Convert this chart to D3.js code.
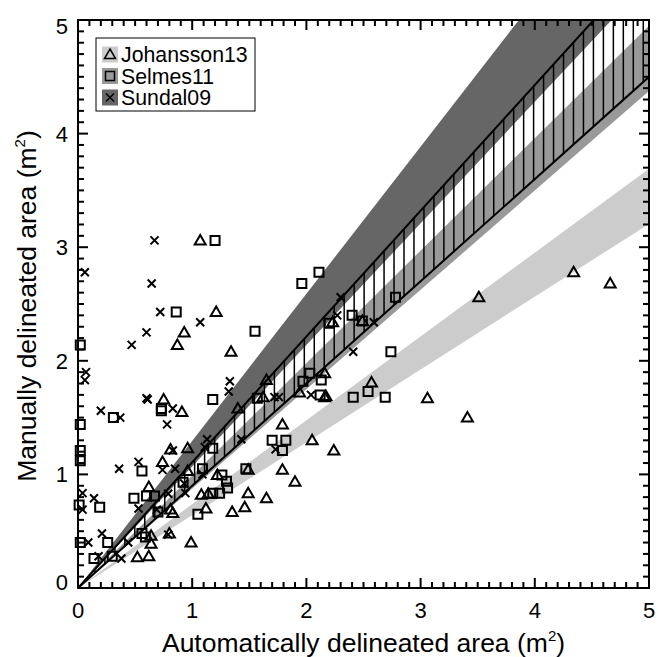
<!DOCTYPE html>
<html>
  <head>
    <script src="https://d3js.org/d3.v7.min.js" charset="utf-8"></script>
    <meta charset="UTF-8">
    <title>manual vs automatic area</title>
    <style>
      body { margin: 0; background: #fff; }
      svg text { font-family: "Liberation Sans", Arial, Helvetica, sans-serif; fill: #000; }
    </style>
  </head>
  <body>
    <svg class="chart"></svg>
    <script type="text/javascript">

     // series shown in the legend
     var seriesNames = ["Johansson13", "Selmes11", "Sundal09"];

     // regression bands through the origin: slope ranges (y = s * x)
     var bandLow  = [0.641, 0.875, 1.07];
     var bandHigh = [0.738, 0.99, 1.295];

     // hatched region between the two black lines
     var hatchSlopes = [0.90, 1.107];

     // points, [automatic, manual]
     var johansson13 = [
         [1.07, 3.06], [1.21, 2.43], [0.93, 2.25], [0.87, 2.14], [1.34, 2.08],
         [0.75, 1.66], [0.91, 1.55], [1.40, 1.58], [1.65, 1.83], [1.62, 1.68],
         [0.96, 1.23], [0.81, 1.22], [0.74, 1.11], [0.62, 0.89], [0.96, 1.03],
         [1.22, 0.995], [1.49, 1.04], [1.79, 1.04], [1.90, 0.935], [1.79, 1.44],
         [2.05, 1.30], [1.08, 0.82], [1.14, 0.83], [1.12, 0.70], [1.35, 0.67],
         [1.46, 0.71], [1.49, 0.835], [1.65, 0.79], [0.81, 0.69], [0.83, 0.66],
         [0.64, 0.46], [0.64, 0.39], [0.80, 0.48], [0.99, 0.40], [0.52, 0.27],
         [0.62, 0.28], [2.16, 1.89], [1.94, 1.72], [2.16, 1.68], [2.17, 1.69],
         [2.23, 2.34], [2.24, 1.21], [2.57, 1.81], [3.06, 1.67], [3.41, 1.50],
         [3.51, 2.56], [4.34, 2.78], [4.66, 2.68], [2.49, 2.35]
     ];
     var selmes11 = [
         [1.20, 3.06], [0.86, 2.43], [1.96, 2.68], [2.11, 2.78], [1.55, 2.26],
         [0.02, 2.14], [0.02, 1.44], [0.02, 1.21], [0.02, 1.12], [0.01, 0.73],
         [0.02, 0.40], [0.19, 0.71], [0.31, 1.50], [0.56, 1.03], [0.49, 0.79],
         [0.60, 0.81], [0.67, 0.81], [0.73, 1.58], [0.73, 1.56], [1.18, 1.66],
         [1.18, 1.23], [1.09, 1.05], [1.26, 0.995], [1.30, 0.94], [1.31, 0.88],
         [1.18, 0.835], [1.24, 0.835], [1.05, 0.65], [0.92, 0.93], [0.70, 0.67],
         [0.56, 0.48], [0.59, 0.45], [0.26, 0.40], [0.14, 0.26], [0.30, 0.28],
         [1.70, 1.30], [1.82, 1.30], [1.79, 1.21], [1.47, 1.05], [1.97, 1.82],
         [2.03, 1.89], [2.13, 1.83], [2.12, 1.70], [1.57, 1.67], [2.41, 1.68],
         [2.40, 2.40], [2.20, 2.33], [2.74, 2.08], [2.54, 1.73], [2.69, 1.68],
         [2.78, 2.56], [2.49, 2.35]
     ];
     var sundal09 = [
         [0.67, 3.06], [0.645, 2.68], [0.06, 2.78], [0.72, 2.43], [1.07, 2.34],
         [0.60, 2.25], [0.47, 2.14], [0.07, 1.90], [0.06, 1.83], [0.20, 1.56],
         [0.37, 1.50], [0.60, 1.67], [0.61, 1.66], [0.83, 1.58], [0.78, 1.44],
         [1.33, 1.82], [1.32, 1.73], [1.13, 1.31], [1.43, 1.31], [1.73, 1.22],
         [0.36, 1.05], [0.53, 1.11], [0.74, 1.04], [0.85, 1.05], [0.83, 1.21],
         [0.04, 0.835], [0.14, 0.79], [0.04, 0.69], [0.21, 0.48], [0.09, 0.40],
         [0.53, 0.70], [0.69, 0.69], [0.79, 0.83], [0.94, 0.835], [0.93, 0.92],
         [0.79, 0.47], [0.44, 0.40], [0.38, 0.26], [0.18, 0.28], [2.04, 1.70],
         [1.72, 1.68], [1.76, 1.68], [2.27, 2.40], [2.41, 2.08], [2.30, 2.56],
         [2.59, 2.34], [1.09, 1.00], [1.11, 1.24]
     ];

     var xTicks = [0, 1, 2, 3, 4, 5];
     var yTicks = [0, 1, 2, 3, 4, 5];

     var width = 659,
         height = 657,
         padL = 78, padR = 649, padT = 20, padB = 588;

     var bandColors = ["#cccccc", "#999999", "#666666"];
     var markerPaths = [
         "M0,-5.5L5.5,4L-5.5,4Z",
         "M-4.5,-4.5h9v9h-9Z",
         "M-4,-4L4,4M4,-4L-4,4"
     ];

     var chart = d3.select(".chart")
                   .attr("width", width)
                   .attr("height", height);

     var x = d3.scaleLinear().domain([0, 5]).range([padL, padR]);
     var y = d3.scaleLinear().domain([0, 5]).range([padB, padT]);

     chart.append("clipPath").attr("id", "plotclip")
          .append("rect")
          .attr("x", padL).attr("y", padT)
          .attr("width", padR - padL).attr("height", padB - padT);

     var plot = chart.append("g").attr("clip-path", "url(#plotclip)");

     // wedge between two slopes, from the origin out to x = 5
     function wedge(lo, hi) {
         return "M" + x(0) + "," + y(0) +
                "L" + x(5) + "," + y(5 * lo) +
                "L" + x(5) + "," + y(5 * hi) + "Z";
     }

     plot.append("g").selectAll("path")
         .data(seriesNames)
         .enter().append("path")
         .attr("d", function(d, i) { return wedge(bandLow[i], bandHigh[i]); })
         .attr("fill", function(d, i) { return bandColors[i]; });

     // vertical hatching between the black lines
     var hatchX = d3.range(0.061, 5, 0.0873);
     plot.append("g").selectAll("line")
         .data(hatchX)
         .enter().append("line")
         .attr("x1", function(d) { return x(d); })
         .attr("x2", function(d) { return x(d); })
         .attr("y1", function(d) { return y(d * hatchSlopes[0]); })
         .attr("y2", function(d) { return y(d * hatchSlopes[1]); })
         .attr("stroke", "#000")
         .attr("stroke-width", 1.5);

     plot.append("g").selectAll("line")
         .data(hatchSlopes)
         .enter().append("line")
         .attr("x1", x(0)).attr("y1", y(0))
         .attr("x2", x(5))
         .attr("y2", function(d) { return y(5 * d); })
         .attr("stroke", "#000")
         .attr("stroke-width", 2);

     var series = [johansson13, selmes11, sundal09];
     series.forEach(function(pts, i) {
         chart.append("g")
              .selectAll("path")
              .data(pts)
              .enter().append("path")
              .attr("transform", function(d) { return "translate(" + x(d[0]) + "," + y(d[1]) + ")"; })
              .attr("d", markerPaths[i])
              .attr("fill", "none")
              .attr("stroke", "#000")
              .attr("stroke-width", 2);
     });

     // axes: major ticks at integers, minor every 0.1, inward on all four sides
     var minor = d3.range(0, 5.001, 0.1).filter(function(v) { return Math.abs(v - Math.round(v)) > 1e-6; });
     var axes = chart.append("g");
     function tickLen(v) { return Math.abs(v - Math.round(v)) < 1e-6 ? 10 : 6; }
     var allTicks = xTicks.concat(minor);

     axes.append("g").selectAll("line").data(allTicks).enter().append("line")
         .attr("x1", function(d) { return x(d); }).attr("x2", function(d) { return x(d); })
         .attr("y1", padB).attr("y2", function(d) { return padB - tickLen(d); });
     axes.append("g").selectAll("line").data(allTicks).enter().append("line")
         .attr("x1", function(d) { return x(d); }).attr("x2", function(d) { return x(d); })
         .attr("y1", padT).attr("y2", function(d) { return padT + tickLen(d); });
     axes.append("g").selectAll("line").data(allTicks).enter().append("line")
         .attr("y1", function(d) { return y(d); }).attr("y2", function(d) { return y(d); })
         .attr("x1", padL).attr("x2", function(d) { return padL + tickLen(d); });
     axes.append("g").selectAll("line").data(allTicks).enter().append("line")
         .attr("y1", function(d) { return y(d); }).attr("y2", function(d) { return y(d); })
         .attr("x1", padR).attr("x2", function(d) { return padR - tickLen(d); });
     axes.selectAll("line").attr("stroke", "#000").attr("stroke-width", 2);

     axes.append("rect")
         .attr("x", padL).attr("y", padT)
         .attr("width", padR - padL).attr("height", padB - padT)
         .attr("fill", "none").attr("stroke", "#000").attr("stroke-width", 2);

     chart.append("g").selectAll("text").data(xTicks).enter().append("text")
          .attr("x", function(d) { return x(d); })
          .attr("y", 618)
          .attr("text-anchor", "middle")
          .attr("font-size", 22)
          .text(function(d) { return d; });

     // end labels are pulled in a little, as in the original
     chart.append("g").selectAll("text").data(yTicks).enter().append("text")
          .attr("x", 68)
          .attr("y", function(d, i) {
              var nudge = i === 0 ? -6 : (i === yTicks.length - 1 ? 6 : 0);
              return y(d) + 8 + nudge;
          })
          .attr("text-anchor", "end")
          .attr("font-size", 22)
          .text(function(d) { return d; });

     var xt = chart.append("text")
          .attr("x", (padL + padR) / 2)
          .attr("y", 652)
          .attr("text-anchor", "middle")
          .attr("font-size", 26.5);
     xt.append("tspan").text("Automatically delineated area (m");
     xt.append("tspan").attr("font-size", 15).attr("dy", -11).text("2");
     xt.append("tspan").attr("dy", 11).text(")");

     var yt = chart.append("text")
          .attr("transform", "translate(36," + ((padT + padB) / 2 + 2) + ") rotate(-90)")
          .attr("text-anchor", "middle")
          .attr("font-size", 26.5);
     yt.append("tspan").text("Manually delineated area (m");
     yt.append("tspan").attr("font-size", 15).attr("dy", -11).text("2");
     yt.append("tspan").attr("dy", 11).text(")");

     // legend
     var legend = chart.append("g");
     legend.append("rect")
           .attr("x", 96).attr("y", 38).attr("width", 159).attr("height", 73)
           .attr("fill", "#fff").attr("stroke", "#000").attr("stroke-width", 1);
     var rows = legend.selectAll("g.row").data(seriesNames).enter().append("g")
           .attr("class", "row")
           .attr("transform", function(d, i) { return "translate(0," + (54.5 + 21.5 * i) + ")"; });
     rows.append("rect")
         .attr("x", 102).attr("y", -8).attr("width", 16).attr("height", 16)
         .attr("fill", function(d, i) { return bandColors[i]; });
     rows.append("path")
         .attr("transform", "translate(110,0)")
         .attr("d", function(d, i) { return markerPaths[i]; })
         .attr("fill", "none").attr("stroke", "#000").attr("stroke-width", 1.5);
     rows.append("text")
         .attr("x", 121).attr("y", 7.5)
         .attr("font-size", 21.3)
         .text(function(d) { return d; });

    </script>
  </body>
</html>
